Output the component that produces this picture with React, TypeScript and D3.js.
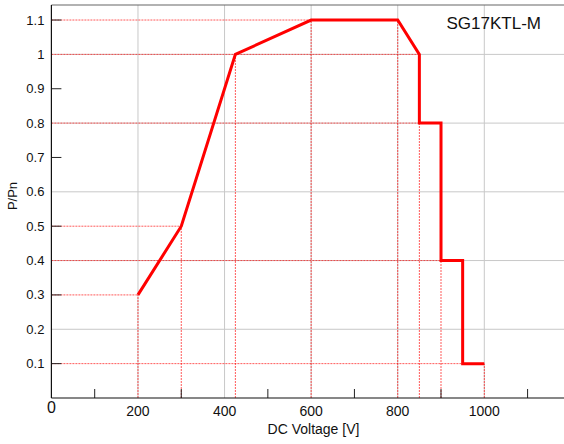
import React from "react";
import * as d3 from "d3";

const voltage = [200, 300, 425, 600, 800, 850, 850, 900, 900, 950, 950, 1000];
const power = [0.3, 0.5, 1.0, 1.1, 1.1, 1.0, 0.8, 0.8, 0.4, 0.4, 0.1, 0.1];

// horizontal guide lines: [P/Pn level, voltage end]
const hGuideLevel = [0.3, 0.5, 1.0, 1.1, 0.8, 0.4, 0.1];
const hGuideEnd = [200, 300, 850, 600, 850, 900, 950];
// vertical guide lines: [voltage, P/Pn top]
const vGuideVolt = [200, 300, 425, 600, 800, 850, 900, 1000];
const vGuideTop = [0.3, 0.5, 1.0, 1.1, 1.1, 1.0, 0.4, 0.1];

const xMajor = [200, 400, 600, 800, 1000];
const xMinor = [100, 300, 500, 700, 900, 1100];
const yMajor = [0.2, 0.4, 0.6, 0.8, 1.0];
const yLabels = [0.1, 0.2, 0.3, 0.4, 0.5, 0.6, 0.7, 0.8, 0.9, 1, 1.1];
const yMinor = [0.1, 0.3, 0.5, 0.7, 0.9, 1.1];

const title = "SG17KTL-M";
const xTitle = "DC Voltage [V]";
const yTitle = "P/Pn";

const W = 564;
const H = 444;
const left = 51.4;
const top = 5;
const bottom = 398;

export default function App() {
  const x = d3.scaleLinear().domain([0, 1200]).range([left, left + 1200 * 0.4329]);
  const y = d3.scaleLinear().domain([0, 1.1437]).range([bottom, top]);
  const line = d3
    .line<number>()
    .x((_, i) => x(voltage[i]))
    .y((d) => y(d));
  const font = "'Liberation Sans', Arial, Helvetica, sans-serif";
  const guideStyle = {
    stroke: "#ff0000",
    strokeOpacity: 0.65,
    strokeWidth: 1,
    strokeDasharray: "2,1",
    fill: "none",
  } as const;

  return (
    <svg
      width={W}
      height={H}
      style={{ position: "absolute", left: 0, top: 0, display: "block", background: "#fff" }}
      fontFamily={font}
    >
      {/* gray grid */}
      {xMajor.map((v) => (
        <line key={"gx" + v} x1={x(v)} x2={x(v)} y1={top} y2={bottom} stroke="#c8c8c8" strokeWidth={1} />
      ))}
      {yMajor.map((v) => (
        <line key={"gy" + v} x1={left} x2={W} y1={y(v)} y2={y(v)} stroke="#c8c8c8" strokeWidth={1} />
      ))}
      {/* guides */}
      {hGuideLevel.map((lv, i) => (
        <line key={"hg" + i} x1={x(0)} x2={x(hGuideEnd[i])} y1={y(lv)} y2={y(lv)} style={guideStyle} />
      ))}
      {vGuideVolt.map((v, i) => (
        <line key={"vg" + i} x1={x(v)} x2={x(v)} y1={y(0)} y2={y(vGuideTop[i])} style={guideStyle} />
      ))}
      {/* ticks */}
      {xMinor.map((v) => (
        <line key={"tx" + v} x1={x(v)} x2={x(v)} y1={bottom} y2={bottom - 9} stroke="#222" strokeWidth={1} />
      ))}
      {yMinor.map((v) => (
        <line key={"ty" + v} x1={left} x2={left + 10} y1={y(v)} y2={y(v)} stroke="#222" strokeWidth={1} />
      ))}
      {/* frame */}
      <line x1={left} x2={W} y1={top} y2={top} stroke="#666" strokeWidth={1.2} />
      <line x1={left} x2={left} y1={top} y2={bottom} stroke="#111" strokeWidth={1.2} />
      <line x1={left} x2={W} y1={bottom} y2={bottom} stroke="#111" strokeWidth={1.2} />
      {/* series */}
      <path d={line(power) || ""} fill="none" stroke="#ff0000" strokeWidth={3} strokeLinejoin="miter" />
      {/* labels */}
      {yLabels.map((v) => (
        <text key={"yl" + v} x={left - 7} y={y(v)} dy="0.35em" textAnchor="end" fontSize={13} fill="#111">
          {String(v)}
        </text>
      ))}
      {xMajor.map((v) => (
        <text key={"xl" + v} x={x(v)} y={416} textAnchor="middle" fontSize={14} fill="#111">
          {String(v)}
        </text>
      ))}
      <text x={x(0)} y={413} textAnchor="middle" fontSize={16} fill="#111">
        0
      </text>
      <text x={313.5} y={434} textAnchor="middle" fontSize={14} fill="#111">
        {xTitle}
      </text>
      <text
        transform={`translate(17,196) rotate(-90)`}
        textAnchor="middle"
        fontSize={13}
        fill="#111"
      >
        {yTitle}
      </text>
      <text x={446.5} y={28.5} fontSize={17} fill="#111">
        {title}
      </text>
    </svg>
  );
}
